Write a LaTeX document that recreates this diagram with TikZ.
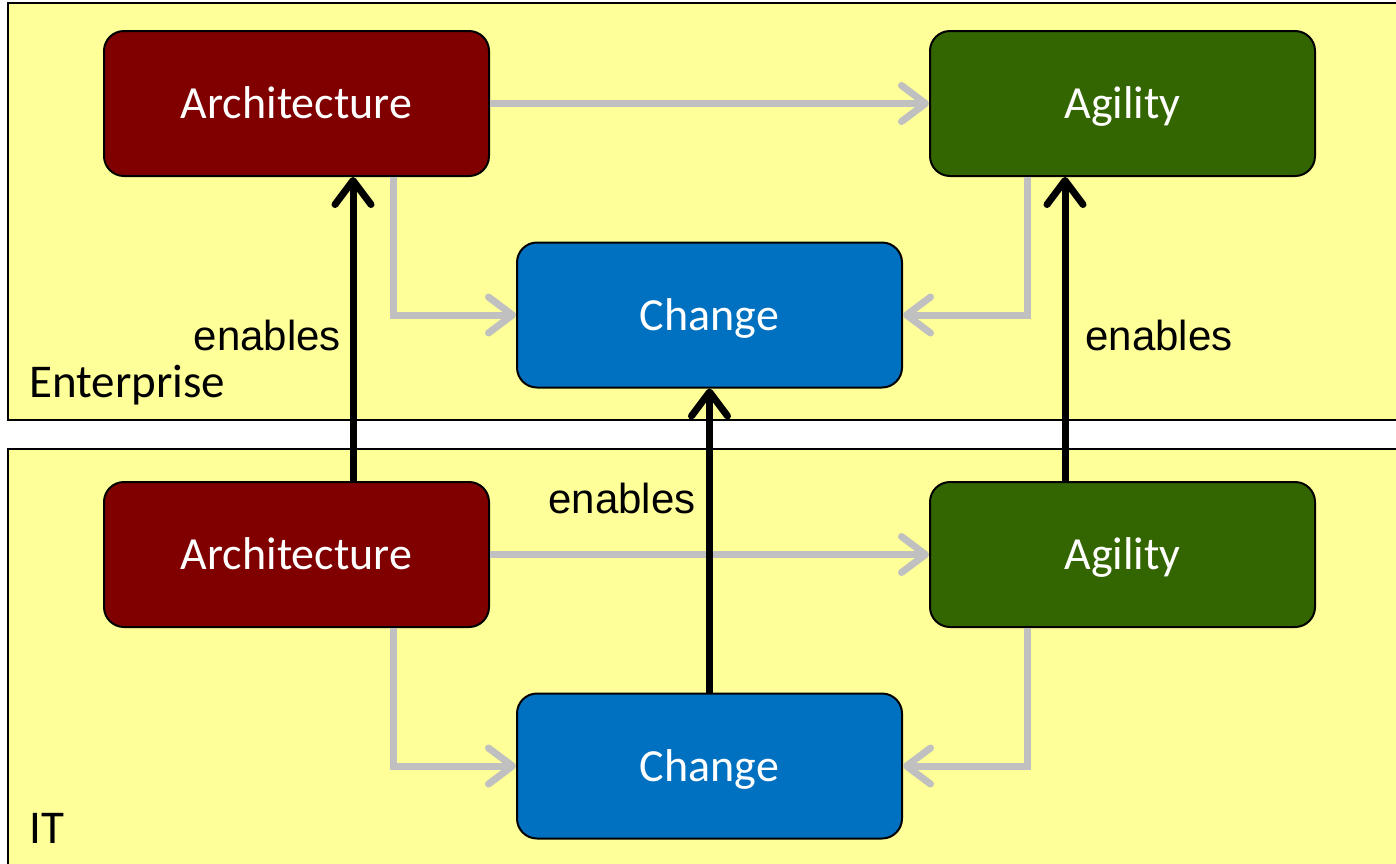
\documentclass[tikz,border=0pt]{standalone}
\usepackage{fontspec}
\setmainfont{Carlito}
\newfontfamily\arialfont{Liberation Sans}
\usetikzlibrary{arrows.meta}
\definecolor{archred}{HTML}{800000}
\definecolor{agilgreen}{HTML}{336600}
\definecolor{changeblue}{HTML}{0070C0}
\definecolor{panelyellow}{HTML}{FFFF99}
\definecolor{flowgrey}{HTML}{C0C0C0}
\tikzset{
  panel/.style={draw=black, line width=2pt, fill=panelyellow},
  boxnode/.style={draw=black, line width=2pt, rounded corners=20pt, minimum width=385pt, minimum height=145pt, inner sep=0pt, text height=34pt, text depth=4pt, text=white, font=\fontsize{46}{55}\selectfont},
  archbox/.style={boxnode, fill=archred},
  agilbox/.style={boxnode, fill=agilgreen},
  changebox/.style={boxnode, fill=changeblue},
  flow/.style={draw=flowgrey, line width=7pt, -{Straight Barb[length=24pt,width=36pt,round]}},
  enable/.style={draw=black, line width=7pt, -{Straight Barb[length=24pt,width=36pt,round]}},
  lbl/.style={font=\arialfont\fontsize{42}{50}\selectfont, inner sep=0pt},
  panellbl/.style={font=\fontsize{47}{56}\selectfont, inner sep=0pt, anchor=base west}
}
\begin{document}
\begin{tikzpicture}[x=1pt,y=-1pt]
\useasboundingbox (0,0) rectangle (1396,863);
\clip (0,0) rectangle (1396,863);
\fill[white] (0,0) rectangle (1396,863);
% panels
\draw[panel] (8,3) rectangle (1420,420);
\draw[panel] (8,449) rectangle (1420,890);
\node[panellbl] (ent) at (29,397) {Enterprise};
\node[panellbl] (itl) at (29,843) {IT};
% boxes
\node[archbox] (archT) at (296.5,103.5) {Architecture};
\node[agilbox] (agilT) at (1122.5,103.5) {Agility};
\node[changebox] (chT) at (709.5,315) {Change};
\node[archbox] (archB) at (296.5,554.5) {Architecture};
\node[agilbox] (agilB) at (1122.5,554.5) {Agility};
\node[changebox] (chB) at (709.5,766) {Change};
% grey flows
\draw[flow] (archT.east) -- (agilT.west);
\draw[flow] ([xshift=96.5pt]archT.south) |- (chT.west);
\draw[flow] ([xshift=-95.5pt]agilT.south) |- (chT.east);
\draw[flow] (archB.east) -- (agilB.west);
\draw[flow] ([xshift=96.5pt]archB.south) |- (chB.west);
\draw[flow] ([xshift=-95.5pt]agilB.south) |- (chB.east);
% enables
\draw[enable] ([xshift=56.5pt]archB.north) -- ([xshift=56.5pt]archT.south);
\draw[enable] ([xshift=-57.5pt]agilB.north) -- ([xshift=-57.5pt]agilT.south);
\draw[enable] (chB.north) -- (chT.south);
\node[lbl, anchor=base east] (e1) at (341,350) {enables};
\node[lbl, anchor=base] (e2) at (1159,350) {enables};
\node[lbl, anchor=base] (e3) at (622,513) {enables};
\end{tikzpicture}
\end{document}
